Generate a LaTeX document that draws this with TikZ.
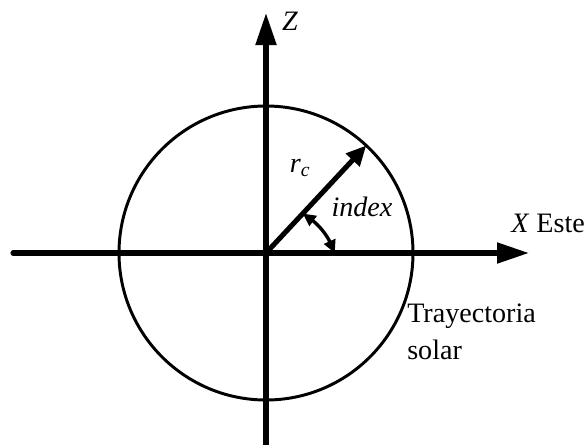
\documentclass[tikz,border=0pt]{standalone}
\usepackage{fontspec}
\setmainfont{Liberation Serif}
\usepackage{tikz}
\usetikzlibrary{arrows.meta}

\begin{document}
\begin{tikzpicture}[
    axis/.style={line width=3.6pt, line cap=round, -{Triangle[length=0.8cm,width=0.5cm]}},
    radial/.style={line width=3.6pt, -{Triangle[length=0.5cm,width=0.45cm]}},
    anglearc/.style={line width=2.4pt, {Triangle[length=0.32cm,width=0.3cm]}-{Triangle[length=0.32cm,width=0.3cm]}},
    orbit/.style={line width=2.1pt},
    lbl/.style={inner sep=0pt, font=\fontsize{20}{26}\selectfont}
]
\useasboundingbox (-6.65,-4.775) rectangle (8.025,6.325);
\coordinate (o)    at (0,0);
\coordinate (xw)   at (-6.325,0);
\coordinate (xe)   at (6.575,0);
\coordinate (zs)   at (0,-4.8);
\coordinate (zn)   at (0,6.0);
\coordinate (sun)  at (47:3.675);
\coordinate (angA) at (47:1.35);
\coordinate (angB) at (0:1.72);

\draw[orbit] (o) circle (3.675);
\draw[axis] (xw) -- (xe);
\draw[axis] (zs) -- (zn);
\draw[radial] (o) -- (sun);
\draw[anglearc] (angA) to[bend left=15] (angB);

\node[lbl] (zlab)   at (0.6,5.8)    {\textit{Z}};
\node[lbl] (rlab)   at (0.85,2.125) {\textit{r\textsubscript{c}}};
\node[lbl] (ilab)   at (2.4,1.15)   {\textit{index}};
\node[lbl, anchor=base west] (xlab) at (6.125,0.525) {\textit{X} Este};
\node[lbl, anchor=base west, align=left] (tlab) at (3.525,-2.65) {Trayectoria\\solar};
\end{tikzpicture}
\end{document}
